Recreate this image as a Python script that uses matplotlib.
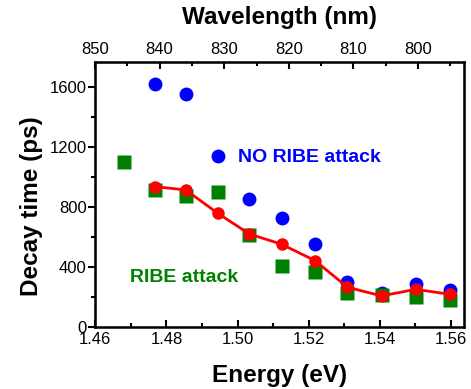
import numpy as np
import matplotlib.pyplot as plt

plt.rcParams['font.family'] = ['Liberation Sans', 'DejaVu Sans']

# energies (eV)
energy = [1.4767, 1.4854, 1.4944, 1.5033, 1.5124, 1.5218, 1.5309, 1.5405, 1.5501, 1.5597]
no_ribe = [1618, 1549, 1142, 851, 725, 551, 302, 225, 287, 247]
ribe_energy = [1.468, 1.4767, 1.4854, 1.4944, 1.5033, 1.5124, 1.5218, 1.5309, 1.5405, 1.5501, 1.5597]
ribe = [1100, 913, 873, 902, 613, 409, 367, 229, 213, 202, 180]
fit = [935, 913, 758, 620, 551, 442, 265, 207, 251, 218]

fig = plt.figure(figsize=(4.71, 3.89), dpi=100)
ax = fig.add_axes([95/471, 1-327/389, (464-95)/471, (327-62)/389])

ax.plot(energy, no_ribe, 'o', color='#0000ff', ms=10, mec='none', zorder=2)
ax.plot(ribe_energy, ribe, 's', color='#008000', ms=9.5, mec='none', zorder=3)
ax.plot(energy, fit, '-o', color='#ff0000', lw=2, ms=9, mec='none', zorder=4)

ax.text(1.5002, 1127, 'NO RIBE attack', color='#0000ff', fontsize=14, fontweight='bold', va='center')
ax.text(1.4698, 327, 'RIBE attack', color='#008000', fontsize=14, fontweight='bold', va='center')

ax.set_xlim(1.4599, 1.5637)
ax.set_ylim(0, 1765)
ax.set_xticks(np.arange(1.46, 1.561, 0.02))
ax.set_xticks(np.arange(1.47, 1.561, 0.02), minor=True)
ax.set_yticks(np.arange(0, 1601, 400))
ax.set_yticks(np.arange(200, 1700, 400), minor=True)
ax.set_xticklabels(['1.46', '1.48', '1.50', '1.52', '1.54', '1.56'])
ax.tick_params(axis='x', which='both', direction='in', top=False, labelsize=12, width=1.5)
ax.tick_params(axis='x', which='major', length=5)
ax.tick_params(axis='x', which='minor', length=3)
ax.tick_params(axis='y', which='both', direction='out', labelsize=12, width=1.5, pad=1)
ax.tick_params(axis='y', which='major', length=5)
ax.tick_params(axis='y', which='minor', length=3)
for s in ax.spines.values():
    s.set_linewidth(1.8)

ax.set_xlabel('Energy (eV)', fontsize=17.5, fontweight='bold', labelpad=12)
ax.set_ylabel('Decay time (ps)', fontsize=17.5, fontweight='bold')
ax.yaxis.set_label_coords(-0.141, 0.457)

top = ax.twiny()
top.set_xlim(849.85, 792.9)
top.set_xticks(np.arange(800, 851, 10))
top.set_xticks(np.arange(795, 851, 10), minor=True)
top.tick_params(axis='x', which='both', direction='in', labelsize=12, width=1.5)
top.tick_params(axis='x', which='major', length=5)
top.tick_params(axis='x', which='minor', length=3)
top.set_xlabel('Wavelength (nm)', fontsize=17.5, fontweight='bold', labelpad=13)

fig.savefig('out.png', dpi=100)
